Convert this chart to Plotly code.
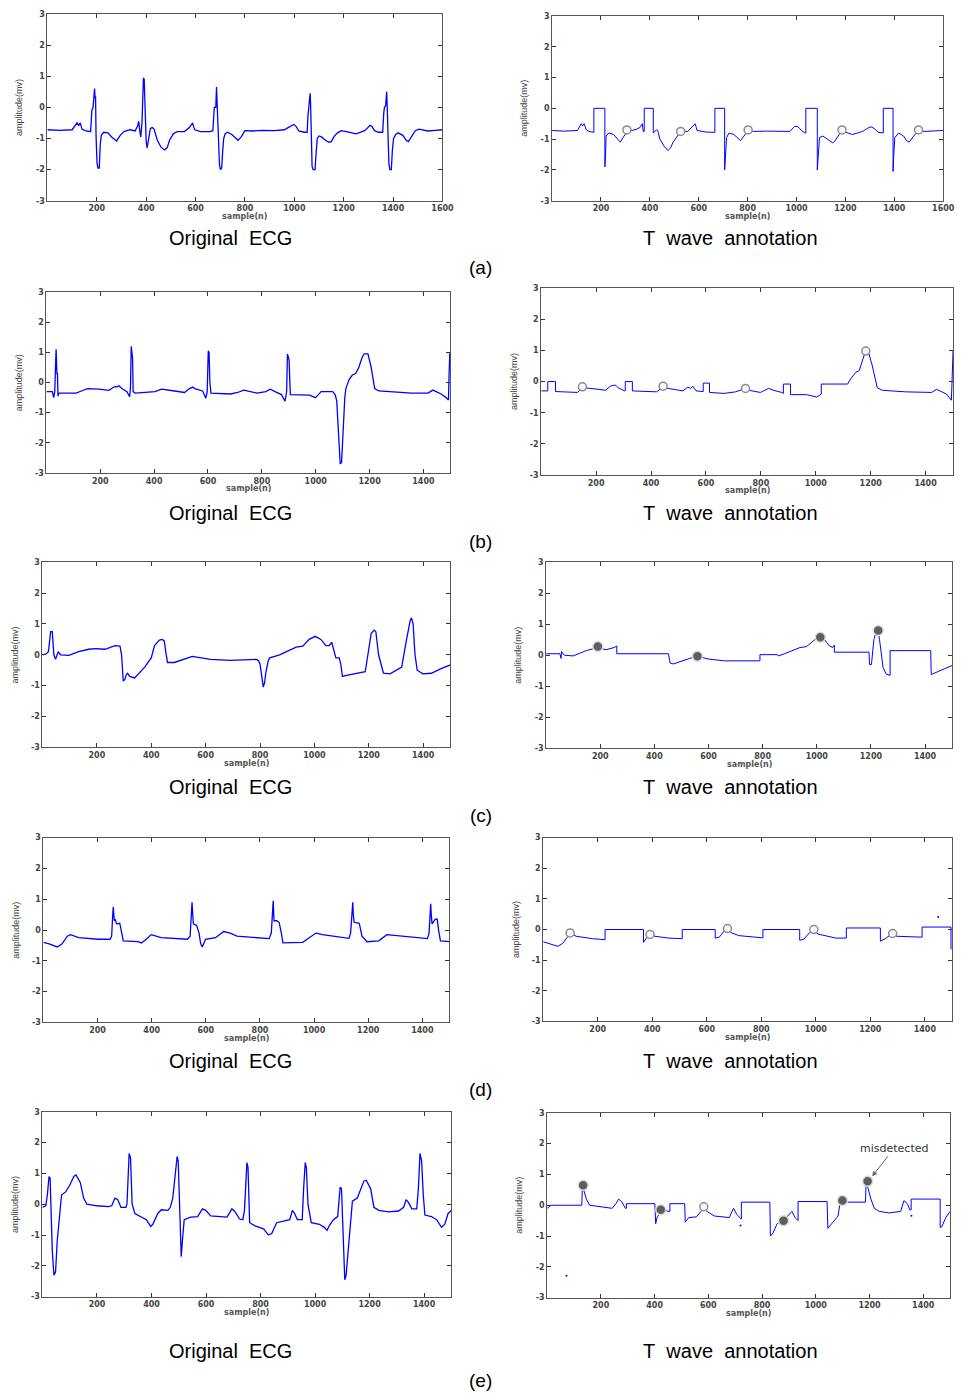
import plotly.graph_objects as go

# ---------------- data ----------------
# (a) original ECG
a_orig_x = [0, 50, 100, 113, 120, 127, 133, 140, 153, 175, 180, 185, 189, 191, 193, 195, 197, 201, 205, 210, 214, 218, 228, 245, 260, 280, 295, 310, 335, 355, 365, 370, 374, 378, 383, 386, 389, 392, 396, 400, 404, 410, 417, 425, 432, 445, 460, 474, 485, 495, 510, 525, 555, 575, 583, 588, 592, 597, 620, 660, 670, 673, 676, 682, 685, 688, 692, 697, 701, 706, 710, 714, 720, 730, 748, 760, 772, 785, 800, 830, 870, 920, 960, 975, 988, 998, 1008, 1018, 1040, 1052, 1055, 1058, 1062, 1064, 1066, 1068, 1072, 1076, 1084, 1088, 1093, 1100, 1110, 1125, 1140, 1150, 1160, 1175, 1190, 1220, 1250, 1285, 1298, 1307, 1315, 1325, 1340, 1358, 1362, 1365, 1370, 1374, 1376, 1379, 1383, 1387, 1393, 1397, 1402, 1410, 1420, 1440, 1452, 1462, 1475, 1490, 1505, 1540, 1570, 1600]
a_orig_y = [-0.72, -0.74, -0.72, -0.6, -0.5, -0.58, -0.5, -0.7, -0.75, -0.78, -0.1, 0.0, 0.3, 0.6, 0.3, 0.35, -0.9, -1.8, -1.95, -1.95, -1.2, -0.9, -0.8, -0.82, -0.95, -1.08, -0.9, -0.78, -0.72, -0.76, -0.6, -0.45, -0.75, -0.95, -0.5, 0.3, 0.95, 0.9, -0.5, -1.1, -1.3, -1.0, -0.68, -0.65, -0.7, -1.05, -1.28, -1.37, -1.3, -1.05, -0.85, -0.78, -0.78, -0.65, -0.55, -0.5, -0.62, -0.72, -0.78, -0.78, -0.75, -0.3, 0.0, 0.0, 0.65, 0.0, -1.2, -1.85, -2.0, -1.95, -1.4, -1.0, -0.85, -0.8, -0.88, -0.98, -1.06, -0.95, -0.75, -0.76, -0.74, -0.75, -0.72, -0.65, -0.58, -0.55, -0.62, -0.76, -0.8, -0.8, -0.3, 0.0, 0.2, 0.45, 0.1, -1.0, -1.9, -2.0, -2.0, -1.5, -1.0, -0.92, -0.95, -1.05, -1.12, -1.1, -0.95, -0.82, -0.75, -0.8, -0.85, -0.75, -0.65, -0.58, -0.62, -0.75, -0.8, -0.8, -0.2, 0.0, 0.05, 0.5, 0.1, -1.0, -1.8, -2.0, -2.0, -1.4, -1.0, -0.88, -0.82, -0.9, -1.05, -1.1, -0.95, -0.75, -0.7, -0.76, -0.74, -0.72]

# (a) T wave annotation
a_ann_x = [0, 50, 104, 112, 119, 125, 131, 140, 151, 171, 171, 216, 216, 219, 221, 232, 252, 266, 279, 290, 299, 306, 326, 345, 360, 369, 373, 377, 377, 414, 414, 427, 432, 441, 460, 474, 485, 495, 515, 526, 555, 570, 576, 585, 590, 593, 630, 666, 666, 706, 706, 710, 714, 724, 744, 760, 771, 785, 802, 825, 880, 973, 985, 993, 1007, 1020, 1034, 1038, 1038, 1085, 1085, 1089, 1094, 1108, 1122, 1135, 1148, 1155, 1162, 1175, 1186, 1202, 1229, 1250, 1270, 1290, 1304, 1317, 1335, 1355, 1355, 1395, 1395, 1398, 1402, 1418, 1438, 1450, 1461, 1470, 1479, 1499, 1526, 1570, 1600]
a_ann_y = [-0.72, -0.74, -0.72, -0.6, -0.5, -0.57, -0.5, -0.7, -0.75, -0.78, 0.0, 0.0, -1.9, -1.5, -0.9, -0.8, -0.85, -1.0, -1.1, -0.95, -0.85, -0.72, -0.72, -0.68, -0.62, -0.5, -0.75, -0.75, 0.0, 0.0, -0.8, -0.7, -0.72, -1.0, -1.25, -1.37, -1.28, -1.1, -0.85, -0.75, -0.75, -0.62, -0.55, -0.5, -0.62, -0.72, -0.77, -0.78, 0.0, 0.0, -2.0, -1.4, -0.95, -0.8, -0.85, -0.97, -1.05, -0.9, -0.72, -0.75, -0.74, -0.75, -0.65, -0.58, -0.6, -0.72, -0.8, -0.8, 0.0, 0.0, -2.0, -1.4, -0.95, -0.9, -0.98, -1.05, -1.12, -1.08, -1.0, -0.82, -0.72, -0.78, -0.85, -0.8, -0.75, -0.65, -0.6, -0.65, -0.78, -0.8, 0.0, 0.0, -2.05, -1.5, -0.95, -0.8, -0.9, -1.05, -1.1, -1.0, -0.9, -0.72, -0.75, -0.73, -0.72]
a_open_x = [306, 526, 802, 1186, 1499]
a_open_y = [-0.7, -0.75, -0.7, -0.7, -0.7]

# (b) original ECG
b_orig_x = [0, 22, 27, 31, 33, 36, 39, 41, 43, 46, 80, 110, 130, 153, 195, 232, 245, 255, 263, 269, 280, 299, 309, 312, 315, 318, 320, 322, 330, 403, 428, 476, 513, 531, 544, 550, 556, 568, 580, 592, 597, 601, 604, 607, 611, 684, 710, 733, 760, 782, 815, 831, 849, 873, 886, 892, 895, 898, 901, 904, 906, 977, 999, 1010, 1020, 1063, 1072, 1078, 1083, 1091, 1096, 1102, 1108, 1112, 1124, 1136, 1148, 1160, 1173, 1180, 1194, 1206, 1219, 1234, 1295, 1356, 1417, 1435, 1447, 1466, 1484, 1493, 1495, 1498]
b_orig_y = [-0.3, -0.3, -0.5, -0.3, 0.3, 1.1, 0.3, 0.3, -0.45, -0.35, -0.35, -0.35, -0.28, -0.2, -0.22, -0.26, -0.18, -0.13, -0.15, -0.1, -0.2, -0.3, -0.47, -0.2, 1.2, 1.0, 0.8, -0.3, -0.35, -0.3, -0.22, -0.28, -0.33, -0.2, -0.15, -0.2, -0.22, -0.25, -0.28, -0.52, -0.3, 1.05, 1.0, 0.0, -0.35, -0.38, -0.33, -0.25, -0.3, -0.35, -0.3, -0.22, -0.3, -0.4, -0.62, -0.3, 0.95, 0.8, 0.75, 0.0, -0.4, -0.42, -0.5, -0.4, -0.3, -0.3, -0.4, -0.6, -1.5, -2.7, -2.65, -1.5, -0.5, -0.2, 0.1, 0.25, 0.3, 0.5, 0.85, 0.95, 0.95, 0.5, -0.2, -0.28, -0.32, -0.35, -0.35, -0.25, -0.3, -0.38, -0.5, -0.58, 0.2, 1.0]

# (b) T wave annotation
b_ann_x = [0, 24, 24, 52, 52, 90, 132, 148, 156, 210, 234, 252, 262, 272, 280, 304, 306, 306, 332, 332, 380, 420, 444, 462, 516, 534, 544, 552, 564, 590, 590, 613, 613, 666, 708, 744, 756, 798, 828, 846, 876, 882, 882, 908, 908, 966, 1004, 1020, 1020, 1116, 1128, 1146, 1158, 1168, 1180, 1192, 1206, 1224, 1242, 1326, 1422, 1440, 1452, 1476, 1494, 1496, 1500]
b_ann_y = [-0.3, -0.3, 0.0, 0.0, -0.32, -0.33, -0.35, -0.2, -0.2, -0.25, -0.28, -0.15, -0.12, -0.12, -0.2, -0.3, -0.3, 0.0, 0.0, -0.3, -0.32, -0.33, -0.17, -0.22, -0.3, -0.18, -0.22, -0.15, -0.3, -0.32, -0.05, -0.05, -0.35, -0.38, -0.33, -0.22, -0.28, -0.35, -0.22, -0.28, -0.35, -0.38, -0.08, -0.08, -0.42, -0.42, -0.5, -0.4, -0.08, -0.08, 0.1, 0.3, 0.35, 0.6, 0.95, 0.95, 0.5, -0.2, -0.28, -0.33, -0.35, -0.25, -0.3, -0.4, -0.6, 0.2, 1.0]
b_open_x = [150, 444, 744, 1182]
b_open_y = [-0.17, -0.15, -0.22, 0.98]

# (c) original ECG
c_orig_x = [0, 12, 22, 27, 30, 36, 39, 42, 48, 53, 58, 62, 67, 97, 133, 170, 194, 230, 267, 285, 291, 297, 303, 308, 313, 321, 339, 376, 400, 412, 430, 440, 448, 455, 460, 485, 551, 618, 691, 788, 795, 800, 806, 812, 817, 821, 830, 836, 872, 933, 957, 981, 1003, 1024, 1042, 1054, 1064, 1070, 1079, 1091, 1097, 1103, 1127, 1187, 1199, 1209, 1220, 1226, 1236, 1247, 1254, 1278, 1321, 1339, 1352, 1357, 1363, 1370, 1378, 1399, 1430, 1466, 1500]
c_orig_y = [0.0, 0.02, 0.1, 0.5, 0.75, 0.75, 0.4, 0.0, -0.15, -0.05, 0.1, 0.05, 0.0, -0.02, 0.1, 0.18, 0.2, 0.18, 0.3, 0.28, 0.0, -0.85, -0.8, -0.65, -0.6, -0.7, -0.75, -0.4, -0.1, 0.3, 0.48, 0.5, 0.45, 0.0, -0.25, -0.25, -0.05, -0.15, -0.18, -0.15, -0.2, -0.3, -0.7, -1.05, -0.9, -0.6, -0.2, -0.1, 0.0, 0.25, 0.28, 0.5, 0.6, 0.5, 0.3, 0.3, 0.4, 0.2, -0.1, -0.1, -0.3, -0.7, -0.65, -0.55, 0.2, 0.7, 0.8, 0.75, 0.0, -0.4, -0.6, -0.62, -0.4, 0.5, 1.1, 1.2, 1.0, 0.0, -0.5, -0.62, -0.6, -0.45, -0.33]

# (c) T wave annotation
c_ann_x = [0, 51, 55, 57, 62, 69, 100, 148, 191, 221, 251, 261, 261, 452, 458, 470, 531, 559, 598, 658, 786, 790, 790, 853, 860, 900, 938, 962, 992, 1013, 1029, 1047, 1059, 1063, 1065, 1065, 1193, 1195, 1202, 1211, 1221, 1227, 1232, 1245, 1256, 1271, 1271, 1421, 1423, 1455, 1500]
c_ann_y = [0.05, 0.05, -0.1, 0.12, 0.05, 0.0, -0.02, 0.15, 0.25, 0.18, 0.25, 0.3, 0.05, 0.05, -0.25, -0.28, -0.1, -0.03, -0.12, -0.18, -0.18, -0.18, 0.02, 0.02, -0.02, 0.12, 0.25, 0.28, 0.5, 0.58, 0.5, 0.3, 0.25, 0.32, 0.32, 0.1, 0.1, -0.3, -0.3, 0.5, 0.8, 0.78, 0.5, -0.4, -0.6, -0.65, 0.15, 0.15, -0.62, -0.5, -0.33]
c_fill_x = [191, 559, 1013, 1227]
c_fill_y = [0.28, -0.03, 0.58, 0.8]

# (d) original ECG
d_orig_x = [0, 21, 51, 69, 88, 100, 130, 203, 246, 252, 256, 258, 260, 262, 265, 270, 282, 289, 295, 349, 362, 380, 398, 435, 532, 542, 547, 549, 551, 554, 566, 575, 581, 587, 599, 636, 666, 690, 715, 834, 842, 847, 849, 851, 852, 862, 871, 879, 885, 958, 989, 1007, 1031, 1129, 1135, 1141, 1143, 1145, 1148, 1167, 1177, 1196, 1239, 1269, 1324, 1391, 1419, 1425, 1429, 1431, 1433, 1436, 1448, 1455, 1461, 1467, 1500]
d_orig_y = [-0.4, -0.45, -0.55, -0.45, -0.2, -0.15, -0.25, -0.3, -0.3, -0.2, 0.5, 0.75, 0.5, 0.3, 0.35, 0.2, 0.22, -0.1, -0.35, -0.38, -0.42, -0.3, -0.15, -0.25, -0.3, -0.2, 0.5, 0.9, 0.6, 0.2, 0.15, -0.1, -0.45, -0.55, -0.3, -0.25, -0.05, -0.1, -0.2, -0.28, -0.1, 0.6, 0.95, 0.5, 0.3, 0.3, 0.25, -0.1, -0.42, -0.4, -0.2, -0.1, -0.15, -0.27, -0.1, 0.6, 0.9, 0.5, 0.25, 0.22, -0.2, -0.38, -0.35, -0.15, -0.2, -0.25, -0.28, -0.1, 0.6, 0.85, 0.5, 0.2, 0.35, 0.35, -0.05, -0.35, -0.38]

# (d) T wave annotation
d_ann_x = [0, 30, 54, 72, 91, 99, 121, 181, 223, 227, 227, 368, 368, 377, 392, 410, 460, 509, 510, 510, 631, 631, 646, 664, 676, 688, 718, 803, 806, 806, 941, 941, 956, 977, 993, 1008, 1074, 1112, 1112, 1237, 1237, 1255, 1282, 1297, 1350, 1388, 1390, 1390, 1496, 1496]
d_ann_y = [-0.4, -0.48, -0.55, -0.45, -0.22, -0.12, -0.22, -0.3, -0.33, -0.33, 0.0, 0.0, -0.42, -0.3, -0.15, -0.22, -0.28, -0.3, -0.3, 0.0, 0.0, -0.28, -0.25, -0.05, 0.02, -0.1, -0.2, -0.27, -0.27, 0.0, 0.0, -0.35, -0.32, -0.1, 0.0, -0.15, -0.28, -0.28, 0.05, 0.05, -0.38, -0.3, -0.12, -0.22, -0.23, -0.25, -0.25, 0.08, 0.08, -0.65]
d_open_x = [99, 392, 676, 993, 1282]
d_open_y = [-0.11, -0.16, 0.03, 0.0, -0.13]
d_speck_x = [1449]
d_speck_y = [0.41]

# (e) original ECG
e_orig_x = [0, 12, 18, 24, 28, 31, 36, 42, 48, 54, 63, 70, 85, 99, 115, 123, 139, 151, 163, 200, 242, 254, 266, 276, 288, 306, 310, 315, 318, 323, 326, 329, 339, 363, 381, 397, 405, 423, 436, 460, 469, 478, 488, 494, 498, 503, 509, 515, 520, 544, 569, 587, 599, 617, 677, 695, 707, 723, 735, 741, 746, 750, 754, 757, 760, 780, 811, 829, 841, 859, 883, 907, 917, 925, 935, 953, 958, 964, 968, 974, 986, 1016, 1034, 1044, 1052, 1067, 1083, 1089, 1092, 1097, 1102, 1109, 1114, 1125, 1137, 1155, 1167, 1179, 1188, 1204, 1216, 1234, 1270, 1306, 1325, 1334, 1343, 1355, 1373, 1379, 1385, 1391, 1397, 1403, 1427, 1446, 1464, 1476, 1488, 1500]
e_orig_y = [-0.1, -0.05, 0.3, 0.9, 0.85, 0.0, -1.5, -2.3, -2.2, -1.2, -0.4, 0.3, 0.4, 0.6, 0.9, 0.95, 0.7, 0.2, 0.0, -0.05, -0.08, -0.05, 0.2, 0.15, -0.1, -0.1, 0.0, 1.0, 1.65, 1.5, 0.5, 0.0, -0.3, -0.4, -0.5, -0.72, -0.65, -0.3, -0.18, -0.2, -0.1, 0.2, 1.0, 1.55, 1.4, 0.0, -1.7, -1.0, -0.5, -0.42, -0.4, -0.15, -0.2, -0.38, -0.42, -0.15, -0.25, -0.48, -0.5, -0.2, 0.8, 1.35, 1.2, 0.3, -0.6, -0.7, -0.8, -1.0, -0.95, -0.6, -0.55, -0.5, -0.2, -0.3, -0.5, -0.5, 0.5, 1.35, 1.2, 0.0, -0.6, -0.65, -0.75, -0.85, -0.7, -0.5, -0.4, 0.2, 0.55, 0.5, -1.0, -2.45, -2.3, -1.0, 0.1, 0.2, 0.5, 0.75, 0.78, 0.5, -0.1, -0.2, -0.25, -0.22, -0.1, 0.15, 0.05, -0.15, -0.15, 0.5, 1.65, 1.4, 0.3, -0.35, -0.4, -0.5, -0.75, -0.65, -0.3, -0.2]

# (e) T wave annotation
e_ann_x = [0, 15, 129, 131, 134, 146, 158, 205, 242, 256, 266, 279, 291, 295, 295, 401, 404, 409, 423, 438, 450, 457, 457, 512, 514, 527, 555, 573, 583, 595, 622, 678, 694, 706, 720, 723, 723, 829, 831, 841, 856, 870, 880, 895, 911, 923, 932, 934, 934, 1042, 1045, 1058, 1076, 1083, 1089, 1099, 1185, 1187, 1193, 1205, 1218, 1236, 1273, 1316, 1328, 1341, 1350, 1355, 1355, 1463, 1463, 1469, 1484, 1500]
e_ann_y = [-0.1, 0.0, 0.0, 0.6, 0.55, 0.2, 0.0, -0.05, -0.1, 0.05, 0.2, 0.1, -0.1, -0.1, 0.05, 0.05, -0.6, -0.4, -0.2, -0.15, -0.2, -0.2, 0.05, 0.05, -0.55, -0.4, -0.38, -0.2, -0.1, -0.2, -0.35, -0.4, -0.1, -0.3, -0.45, -0.45, 0.1, 0.1, -1.0, -0.9, -0.6, -0.52, -0.5, -0.35, -0.2, -0.4, -0.5, -0.5, 0.12, 0.12, -0.75, -0.6, -0.4, -0.35, 0.0, 0.1, 0.1, 0.7, 0.6, 0.2, -0.1, -0.2, -0.25, -0.2, 0.15, 0.05, -0.15, -0.15, 0.2, 0.2, -0.72, -0.7, -0.4, -0.2]
e_fill_x = [134, 423, 880, 1099, 1193]
e_fill_y = [0.65, -0.15, -0.5, 0.15, 0.78]
e_open_x = [583]
e_open_y = [-0.05]
e_speck_x = [72, 720, 1356]
e_speck_y = [-2.29, -0.66, -0.34]
misdetected_x = 1210
misdetected_y = 0.94

# tick labels
y_ticks = [-3, -2, -1, 0, 1, 2, 3]
x_ticks_1600 = [200, 400, 600, 800, 1000, 1200, 1400, 1600]
x_ticks_1500 = [200, 400, 600, 800, 1000, 1200, 1400]

panel_titles = ["Original\u00a0 ECG", "T\u00a0 wave\u00a0 annotation"]
row_labels = ["(a)", "(b)", "(c)", "(d)", "(e)"]

# ---------------- layout geometry (pixels) ----------------
W, H = 970, 1400
# (left, right, top, bottom) plot-area boxes, x-range end
boxes = [
    ((48, 448, 10, 198), 1600), ((559, 955, 12, 198), 1600),
    ((47, 456, 290, 472), 1500), ((548, 965, 286, 474), 1500),
    ((43, 456, 562, 748), 1500), ((553, 964, 562, 749), 1500),
    ((44, 455, 839, 1025), 1500), ((550, 964, 839, 1024), 1500),
    ((43, 457, 1115, 1301), 1500), ((554, 962, 1116, 1302), 1500),
]
title_y = [236, 512, 788, 1064, 1356]
label_y = [265, 541, 817, 1093, 1385]

series = [
    (a_orig_x, a_orig_y, 1.3), (a_ann_x, a_ann_y, 1.0),
    (b_orig_x, b_orig_y, 1.3), (b_ann_x, b_ann_y, 1.0),
    (c_orig_x, c_orig_y, 1.3), (c_ann_x, c_ann_y, 1.0),
    (d_orig_x, d_orig_y, 1.3), (d_ann_x, d_ann_y, 1.0),
    (e_orig_x, e_orig_y, 1.3), (e_ann_x, e_ann_y, 1.0),
]
open_marks = {1: (a_open_x, a_open_y), 3: (b_open_x, b_open_y),
              7: (d_open_x, d_open_y), 9: (e_open_x, e_open_y)}
fill_marks = {5: (c_fill_x, c_fill_y), 9: (e_fill_x, e_fill_y)}
specks = {7: (d_speck_x, d_speck_y), 9: (e_speck_x, e_speck_y)}

BLUE = "rgb(0,0,255)"
TICKFONT = dict(family="DejaVu Sans, Verdana", size=8, color="#444")
fig = go.Figure()
annotations = []

def px(x):
    return x / W

def py(y):
    return 1 - y / H

for i, ((l, r, t, b), xmax) in enumerate(boxes):
    n = i + 1
    xa = "x" if n == 1 else f"x{n}"
    ya = "y" if n == 1 else f"y{n}"
    sx, sy, lw = series[i]
    fig.add_trace(go.Scatter(x=sx, y=sy, mode="lines", line=dict(color=BLUE, width=lw),
                             xaxis=xa, yaxis=ya, showlegend=False, hoverinfo="skip"))
    if i in specks:
        fig.add_trace(go.Scatter(x=specks[i][0], y=specks[i][1], mode="markers",
                                 marker=dict(color=BLUE, size=2), xaxis=xa, yaxis=ya,
                                 showlegend=False, hoverinfo="skip"))
    if i in open_marks:
        fig.add_trace(go.Scatter(x=open_marks[i][0], y=open_marks[i][1], mode="markers",
                                 marker=dict(symbol="circle", size=8, color="rgba(248,248,248,1)",
                                             line=dict(color="#8c8c8c", width=1.5)),
                                 xaxis=xa, yaxis=ya, showlegend=False, hoverinfo="skip"))
    if i in fill_marks:
        fig.add_trace(go.Scatter(x=fill_marks[i][0], y=fill_marks[i][1], mode="markers",
                                 marker=dict(symbol="circle", size=10, color="#5e5e5e",
                                             line=dict(color="#dcdcdc", width=1.5)),
                                 xaxis=xa, yaxis=ya, showlegend=False, hoverinfo="skip"))
    xt = x_ticks_1600 if xmax == 1600 else x_ticks_1500
    axis_common = dict(showline=True, mirror="ticks", linecolor="#555", linewidth=1,
                       ticks="inside", ticklen=4, tickcolor="#333", showgrid=False,
                       zeroline=False, tickfont=TICKFONT)
    fig.update_layout(**{
        ("xaxis" if n == 1 else f"xaxis{n}"): dict(domain=[px(l), px(r)], range=[0, xmax], anchor=ya,
                                                  tickvals=xt, ticktext=[f"<b>{v}</b>" for v in xt],
                                                  **axis_common),
        ("yaxis" if n == 1 else f"yaxis{n}"): dict(domain=[py(b), py(t)], range=[-3, 3], anchor=xa,
                                                  tickvals=y_ticks, ticktext=[f"<b>{v}</b>" for v in y_ticks],
                                                  **axis_common),
    })
    cx = (l + r) / 2
    annotations.append(dict(x=px(cx), y=py(b + 16), xref="paper", yref="paper", text="<b>sample(n)</b>",
                            showarrow=False, xanchor="center", yanchor="middle",
                            font=dict(family="DejaVu Sans, Verdana", size=8, color="#555")))
    annotations.append(dict(x=px(l - 28), y=py((t + b) / 2), xref="paper", yref="paper",
                            text="amplitude(mv)", textangle=-90, showarrow=False,
                            xanchor="center", yanchor="middle",
                            font=dict(family="Liberation Sans Narrow, Liberation Sans, Arial", size=9, color="#444")))
    row = i // 2
    annotations.append(dict(x=px(233 if i % 2 == 0 else 740), y=py(title_y[row]), xref="paper", yref="paper",
                            text=panel_titles[i % 2], showarrow=False, xanchor="center", yanchor="middle",
                            font=dict(family="Liberation Sans, Arial", size=20, color="#000")))

for row in range(5):
    annotations.append(dict(x=px(487), y=py(label_y[row]), xref="paper", yref="paper",
                            text=row_labels[row], showarrow=False, xanchor="center", yanchor="middle",
                            font=dict(family="Liberation Sans, Arial", size=19, color="#000")))

annotations.append(dict(x=misdetected_x, y=misdetected_y, xref="x10", yref="y10", text="misdetected",
                        showarrow=True, arrowhead=2, arrowsize=1, arrowwidth=1, arrowcolor="#666",
                        ax=22, ay=-28, font=dict(family="DejaVu Sans", size=11, color="#333")))

fig.update_layout(autosize=True, margin=dict(l=0, r=0, t=0, b=0),
                  paper_bgcolor="white", plot_bgcolor="white", annotations=annotations)

fig.write_html("out.html", config={"displayModeBar": False, "responsive": True},
               default_width="100vw", default_height="100vh",
               post_script="document.documentElement.style.margin='0';document.body.style.margin='0';"
                           "document.documentElement.style.overflow='hidden';document.body.style.overflow='hidden';"
                           "var gd=document.getElementById('{plot_id}');Plotly.Plots.resize(gd);")
